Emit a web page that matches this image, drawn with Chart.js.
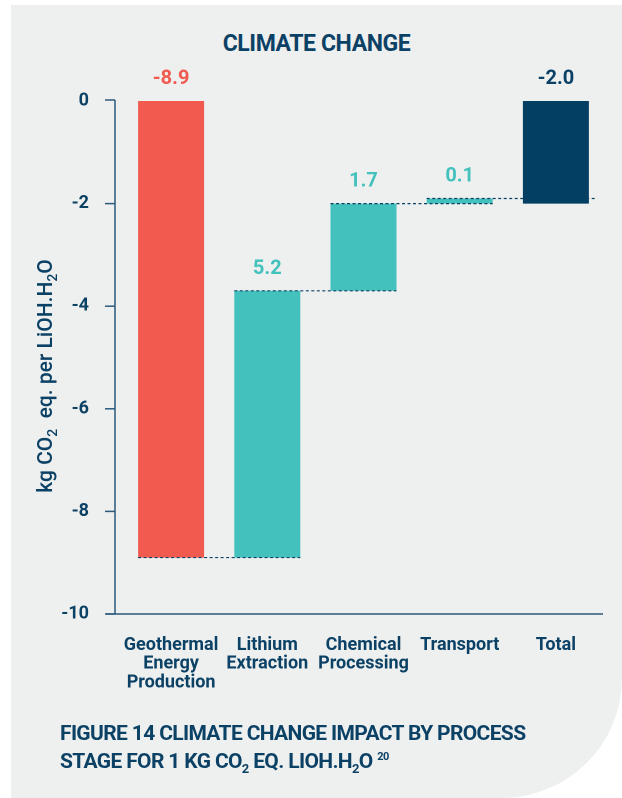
<!DOCTYPE html>
<html><head><meta charset="utf-8">
<script src="https://cdn.jsdelivr.net/npm/chart.js@4"></script>
<style>
html,body{margin:0;padding:0;background:#fff;width:622px;height:798px;overflow:hidden;font-family:Roboto,"DejaVu Sans",sans-serif;}
#panel{position:absolute;left:11px;top:5px;width:611px;height:793px;background:#eef0ef;border-bottom-right-radius:120px;}
#title{position:absolute;left:11px;width:611px;top:30px;text-align:center;font-weight:700;font-size:23px;line-height:28px;color:#0c4166;letter-spacing:-0.4px;}
#wrap{position:absolute;left:0;top:0;width:622px;height:798px;}
#caption{position:absolute;left:60px;top:719px;font-weight:700;font-size:21px;line-height:28px;color:#0c4166;letter-spacing:-0.65px;white-space:nowrap;}
#caption sub{font-size:13px;vertical-align:-5px;line-height:0;}
#caption sup{font-size:11px;vertical-align:8px;line-height:0;}
</style></head>
<body>
<div id="panel"></div>
<div id="title">CLIMATE CHANGE</div>
<div id="wrap"><canvas id="c"></canvas></div>
<div id="caption">FIGURE 14 CLIMATE CHANGE IMPACT BY PROCESS<br>STAGE FOR 1 KG CO<sub>2</sub> EQ. LIOH.H<sub>2</sub>O <sup>20</sup></div>
<script>
// ---- data ----
const categories = [["Geothermal","Energy","Production"],["Lithium","Extraction"],["Chemical","Processing"],"Transport","Total"];
const stepValues = [-8.9, 5.2, 1.7, 0.1];
const totalValue = -2.0;
const yTickValues = [0, -2, -4, -6, -8, -10];

// ---- styles ----
const NAVY = "#0c4166";
const AXIS = "#2b5a7a";
const barColors = ["#f15a4f", "#43c1bd", "#43c1bd", "#43c1bd", "#033f63"];
const FONT = "Roboto, 'DejaVu Sans', sans-serif";

// build floating ranges from the step values
const ranges = [];
let run = 0;
stepValues.forEach(v => { ranges.push([run, run + v]); run += v; });
ranges.push([0, totalValue]);
const valueLabels = stepValues.map(v => v.toFixed(1)).concat([totalValue.toFixed(1)]);

const overlay = {
  id: 'overlay',
  afterDatasetsDraw(chart) {
    const ctx = chart.ctx;
    const ys = chart.scales.y;
    const ca = chart.chartArea;
    const els = chart.getDatasetMeta(0).data;
    const axisX = ca.left - 8;
    ctx.save();
    // axes
    ctx.strokeStyle = AXIS;
    ctx.lineWidth = 1.5;
    ctx.beginPath();
    ctx.moveTo(axisX, ys.getPixelForValue(0) - 1);
    ctx.lineTo(axisX, ys.getPixelForValue(-10));
    ctx.stroke();
    yTickValues.forEach(v => {
      const py = ys.getPixelForValue(v) - (v === 0 ? 1 : 0);
      ctx.beginPath();
      ctx.moveTo(axisX - 10, py);
      ctx.lineTo(axisX, py);
      ctx.stroke();
    });
    ctx.beginPath();
    ctx.moveTo(axisX - 9, ys.getPixelForValue(-10));
    ctx.lineTo(ca.right - 1, ys.getPixelForValue(-10));
    ctx.stroke();

    // dashed connectors
    ctx.strokeStyle = NAVY;
    ctx.lineWidth = 1.2;
    ctx.setLineDash([3, 2.5]);
    for (let i = 0; i < stepValues.length; i++) {
      const a = els[i], b = els[i + 1];
      const py = ys.getPixelForValue(ranges[i][1]);
      const x1 = a.x - a.width / 2;
      const x2 = b.x + b.width / 2 + (i === stepValues.length - 1 ? 7 : 0);
      ctx.beginPath();
      ctx.moveTo(x1, py);
      ctx.lineTo(x2, py);
      ctx.stroke();
    }
    ctx.setLineDash([]);

    // value labels
    ctx.font = "700 20px " + FONT;
    ctx.textAlign = 'center';
    ctx.textBaseline = 'middle';
    els.forEach((el, i) => {
      const top = Math.min(el.y, el.base);
      ctx.fillStyle = i === els.length - 1 ? NAVY : barColors[i];
      ctx.fillText(valueLabels[i], el.x, top - 22);
    });

    // y-axis title with subscripts
    const parts = [["kg CO", 0], ["2", 1], ["  eq. per LiOH.H", 0], ["2", 1], ["O", 0]];
    const mainF = "500 21px " + FONT, subF = "500 14px " + FONT;
    let total = 0;
    parts.forEach(p => { ctx.font = p[1] ? subF : mainF; total += ctx.measureText(p[0]).width; });
    ctx.translate(45, 376);
    ctx.rotate(-Math.PI / 2);
    ctx.fillStyle = NAVY;
    ctx.textAlign = 'left';
    ctx.textBaseline = 'alphabetic';
    let x = -total / 2;
    parts.forEach(p => {
      ctx.font = p[1] ? subF : mainF;
      ctx.fillText(p[0], x, p[1] ? 12 : 7);
      x += ctx.measureText(p[0]).width;
    });
    ctx.restore();
  }
};

new Chart(document.getElementById('c'), {
  type: 'bar',
  data: {
    labels: categories,
    datasets: [{
      data: ranges,
      backgroundColor: barColors,
      borderWidth: 0,
      borderSkipped: false,
      barPercentage: 0.686,
      categoryPercentage: 1.0
    }]
  },
  options: {
    responsive: true,
    maintainAspectRatio: false,
    animation: false,
    devicePixelRatio: 2,
    layout: { padding: { top: 101, right: 18, bottom: 84, left: 0 } },
    plugins: { legend: { display: false }, tooltip: { enabled: false }, title: { display: false } },
    scales: {
      x: {
        grid: { display: false, drawTicks: false },
        border: { display: false },
        ticks: { color: NAVY, font: { family: FONT, size: 18, weight: '700', lineHeight: 1.04 }, padding: 22, maxRotation: 0, autoSkip: false },
        afterFit(s) { s.height = 100; }
      },
      y: {
        min: -10, max: 0,
        grid: { display: false, drawTicks: false },
        border: { display: false },
        ticks: { color: NAVY, font: { family: FONT, size: 18, weight: '700' }, padding: 34 },
        afterBuildTicks(s) { s.ticks = yTickValues.map(v => ({ value: v })); },
        afterFit(s) { s.width = 123; }
      }
    }
  },
  plugins: [overlay]
});
</script>
</body></html>
